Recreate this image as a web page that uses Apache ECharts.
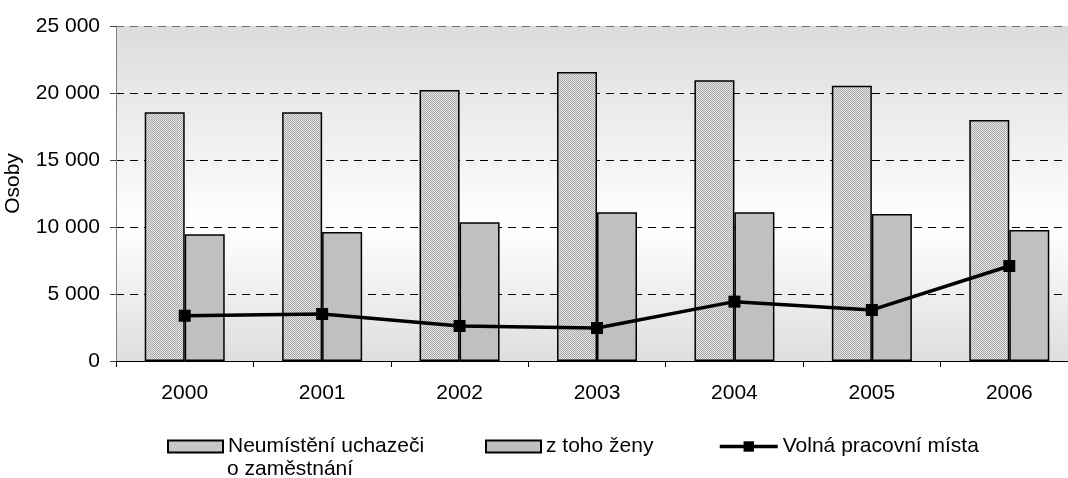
<!DOCTYPE html>
<html><head><meta charset="utf-8">
<script src="https://cdn.jsdelivr.net/npm/echarts@6/dist/echarts.min.js"></script>
<style>html,body{margin:0;padding:0;background:#fff}#c{width:1068px;height:478px}</style>
</head><body><div id="c"></div>
<script>
const years = ['2000','2001','2002','2003','2004','2005','2006'];
const uchazeci = [18560, 18560, 20220, 21570, 20950, 20550, 17990];
const zeny = [9460, 9630, 10350, 11100, 11100, 10970, 9780];
const mista = [3380, 3510, 2610, 2460, 4430, 3810, 7090];
const yTicks = [0, 5000, 10000, 15000, 20000, 25000];
const names = ['Neumístění uchazeči o zaměstnání', 'z toho ženy', 'Volná pracovní místa'];

const pc = document.createElement('canvas');
pc.width = 2; pc.height = 2;
const g = pc.getContext('2d');
g.fillStyle = '#e6e6e6'; g.fillRect(0,0,2,2);
g.fillStyle = '#a8a8a8'; g.fillRect(0,0,1,1); g.fillRect(1,1,1,1);

const FONT = 'Liberation Sans, Arial, sans-serif';
const FS = 21;
const chart = echarts.init(document.getElementById('c'));
chart.setOption({
  animation: false,
  textStyle: {fontFamily: FONT},
  grid: {left: 116, top: 26, width: 962, height: 335, show: true, borderWidth: 0,
    outerBoundsMode: 'none', containLabel: false,
    backgroundColor: {type: 'linear', x: 0, y: 0, x2: 0, y2: 1, colorStops: [
      {offset: 0, color: '#dcdcdc'}, {offset: 0.6, color: '#ffffff'}, {offset: 1, color: '#dedede'}]}},
  legend: [
    {data: [{name: names[0], icon: 'rect'}], left: 162, top: 431, itemWidth: 55, itemHeight: 12,
     formatter: () => 'Neumístění uchazeči',
     textStyle: {fontSize: FS, color: '#000', fontFamily: FONT}},
    {data: [{name: names[1], icon: 'rect'}], left: 480, top: 431, itemWidth: 55, itemHeight: 12,
     textStyle: {fontSize: FS, color: '#000', fontFamily: FONT}},
    {data: [names[2]], left: 713, top: 431, itemWidth: 58, itemHeight: 13,
     lineStyle: {width: 3.5, color: '#000'},
     textStyle: {fontSize: FS, color: '#000', fontFamily: FONT}}
  ],
  graphic: [
    {type: 'text', left: 227, top: 459, style: {text: 'o zaměstnání', fontSize: FS, fill: '#000', fontFamily: FONT}}
  ],
  xAxis: {type: 'category', data: years, boundaryGap: true,
    axisLine: {lineStyle: {color: '#000', width: 1}},
    axisTick: {show: true, interval: 0, length: 6, lineStyle: {color: '#000'}},
    axisLabel: {fontSize: FS, color: '#000', margin: 22, fontFamily: FONT}},
  yAxis: {type: 'value', min: 0, max: 25000, interval: 5000,
    name: 'Osoby', nameLocation: 'middle', nameGap: 92,
    nameTextStyle: {fontSize: FS, color: '#000', padding: [0,0,0,20], fontFamily: FONT},
    axisLine: {show: true, lineStyle: {color: '#808080', width: 1}},
    axisTick: {show: true, length: 6, lineStyle: {color: '#404040'}},
    axisLabel: {fontSize: FS, color: '#000', margin: 16, fontFamily: FONT,
      formatter: v => String(v).replace(/\B(?=(\d{3})+(?!\d))/g, ' ')},
    splitLine: {show: true, lineStyle: {type: [8, 6], width: 1,
      color: ['#000','#000','#000','#000','#000','#707070']}}},
  series: [
    {name: names[0], type: 'bar', data: uchazeci, barWidth: 40, barGap: '0%',
     itemStyle: {color: {image: pc, repeat: 'repeat'}, borderColor: '#000', borderWidth: 1.5}},
    {name: names[1], type: 'bar', data: zeny, barWidth: 40, barGap: '0%',
     itemStyle: {color: '#c0c0c0', borderColor: '#000', borderWidth: 1.5}},
    {name: names[2], type: 'line', data: mista, symbol: 'rect', symbolSize: 12,
     lineStyle: {color: '#000', width: 3.5}, itemStyle: {color: '#000'}, z: 5}
  ]
});
</script></body></html>
